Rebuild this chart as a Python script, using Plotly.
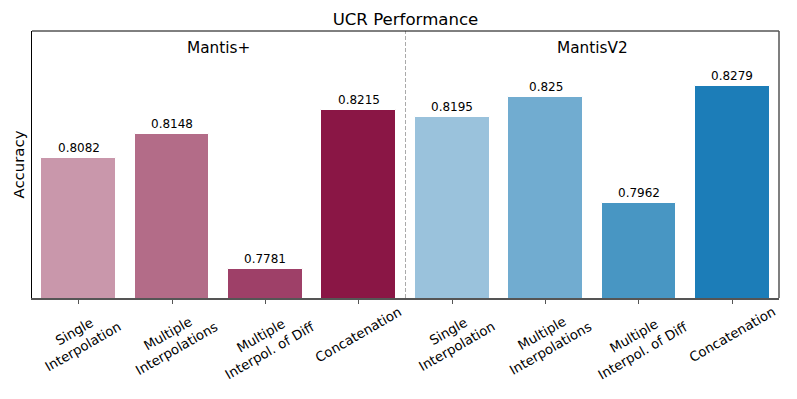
import plotly.graph_objects as go

# Données
categories = ['Single<br>Interpolation', 'Multiple<br>Interpolations',
              'Multiple<br>Interpol. of Diff', 'Concatenation']
mantis_plus = [0.8082, 0.8148, 0.7781, 0.8215]
mantis_v2 = [0.8195, 0.825, 0.7962, 0.8279]
groups = ['Mantis+', 'MantisV2']

colors_plus = ['#c997ab', '#b36c88', '#9e4068', '#8a1645']
colors_v2 = ['#9ac2dc', '#71acd0', '#4896c3', '#1c7db8']

font_family = 'DejaVu Sans, Arial, sans-serif'

values = mantis_plus + mantis_v2
bar_colors = colors_plus + colors_v2
xpos = list(range(len(values)))
labels = categories + categories

# La page HTML ajoute une marge de 8 px autour de la figure
W, H = 781, 383

fig = go.Figure()

fig.add_trace(go.Bar(
    x=xpos,
    y=values,
    width=0.8,
    marker=dict(color=bar_colors, line=dict(color='white', width=1)),
    showlegend=False,
))

annotations = []

# Valeurs au-dessus des barres
for x, v in zip(xpos, values):
    annotations.append(dict(
        x=x, y=v, xref='x', yref='y', text=f'{v:g}',
        showarrow=False, yanchor='bottom', yshift=1,
        font=dict(size=12, color='black', family=font_family),
    ))

# Étiquettes de l'axe x (inclinées)
for x, lab in zip(xpos, labels):
    annotations.append(dict(
        x=x, y=0, xref='x', yref='paper', text=lab,
        showarrow=False, textangle=-30, xanchor='center', yanchor='top',
        yshift=-3, align='center',
        font=dict(size=13.3, color='black', family=font_family),
    ))

# Noms des groupes
for gx, g in zip([1.5, 5.5], groups):
    annotations.append(dict(
        x=gx, y=0.936, xref='x', yref='paper', text=g,
        showarrow=False, yanchor='middle',
        font=dict(size=15.3, color='black', family=font_family),
    ))

# Titre de l'axe y
annotations.append(dict(
    x=0, y=0.5, xref='paper', yref='paper', text='Accuracy',
    showarrow=False, textangle=-90, xanchor='center', yanchor='middle',
    xshift=-14,
    font=dict(size=14.9, color='black', family=font_family),
))

shapes = [
    # Séparateur entre les groupes
    dict(type='line', xref='x', yref='paper', x0=3.5, x1=3.5, y0=0, y1=1,
         line=dict(color='#aaaaaa', width=1, dash='4px,2px')),
    # Cadre haut et droit
    dict(type='line', xref='paper', yref='paper', x0=0, x1=1, y0=1, y1=1,
         line=dict(color='black', width=1)),
    dict(type='line', xref='paper', yref='paper', x0=1, x1=1, y0=0, y1=1,
         line=dict(color='#555555', width=1.5)),
]

fig.update_layout(
    width=W,
    height=H,
    margin=dict(l=24, r=10, t=23, b=93),
    paper_bgcolor='white',
    plot_bgcolor='white',
    title=dict(
        text='UCR Performance',
        x=0.5, xref='paper', xanchor='center',
        y=1 - 11 / H, yanchor='middle',
        font=dict(size=16.6, color='black', family=font_family),
    ),
    font=dict(family=font_family, color='black'),
    annotations=annotations,
    shapes=shapes,
    bargap=0,
)

fig.update_xaxes(
    range=[-0.5, 7.5],
    tickvals=xpos,
    showticklabels=False,
    ticks='outside', ticklen=4, tickcolor='#555555', tickwidth=1,
    showline=True, linecolor='#555555', linewidth=1.5,
    showgrid=False, zeroline=False,
)

fig.update_yaxes(
    range=[0.7702, 0.8429],
    showticklabels=False,
    ticks='',
    showline=True, linecolor='black', linewidth=1,
    showgrid=False, zeroline=False,
)

fig.write_html('out.html')
